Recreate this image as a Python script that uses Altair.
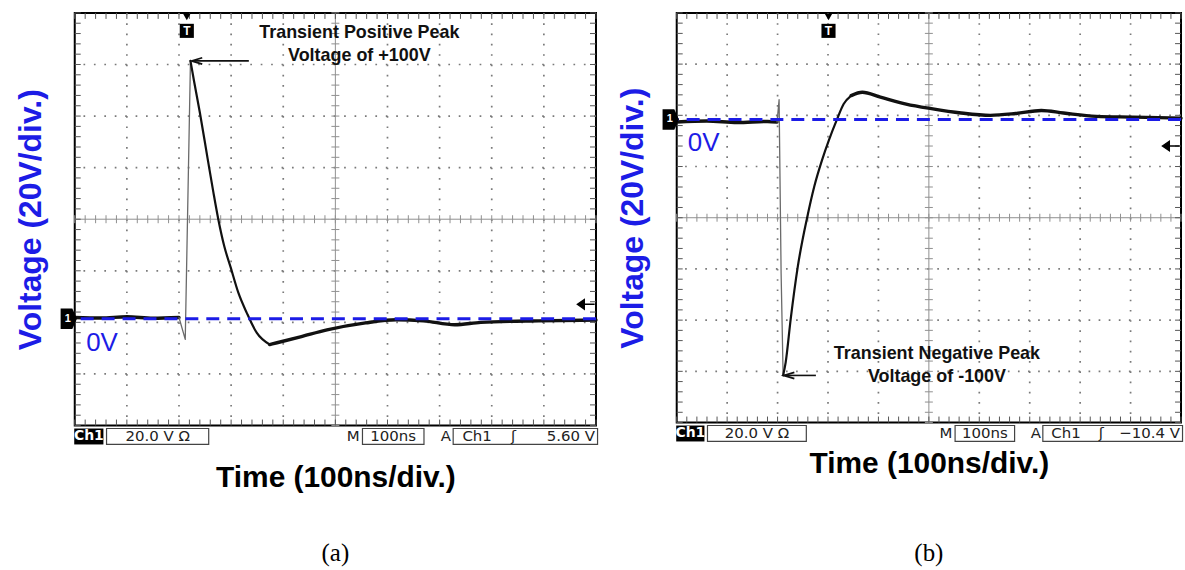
import altair as alt
import pandas as pd

# ---------------------------------------------------------------------------
# Captured waveforms: time in ns from the left edge of the screen, voltage in V
# ---------------------------------------------------------------------------
# (a) positive transient
A_TIME = [0, 50, 100, 150, 200,
          200, 212, 222,
          222, 229, 240, 255, 266, 275, 287, 299, 314, 330, 349, 374,
          374, 388, 433, 484, 558, 617, 669, 729, 779, 890, 1000]
A_VOLT = [0.5, 0.3, 0.8, 0.2, 0.5,
          0.5, -8, 100,
          100, 92, 80, 62, 49, 39, 28, 20, 10, 2.3, -5.4, -10,
          -10, -9.3, -7, -4.3, -1.6, -0.4, -0.8, -2.3, -1.4, -0.8, -0.5]
A_PART = ["pre", "pre", "pre", "pre", "pre",
          "edge", "edge", "edge",
          "fall", "fall", "fall", "fall", "fall", "fall", "fall", "fall",
          "fall", "fall", "fall", "fall",
          "tail", "tail", "tail", "tail", "tail", "tail", "tail", "tail",
          "tail", "tail", "tail"]

# (b) negative transient
B_TIME = [0, 60, 120, 180, 199,
          199, 203, 207, 211,
          211, 216, 226, 240, 259, 273, 288, 302, 317, 331, 346,
          346, 368, 404, 455, 505, 564, 622, 672, 723, 767, 832, 905, 1000]
B_VOLT = [-1, -0.6, -1.2, -0.8, -1,
          -1, 7.7, -60, -100,
          -100, -95, -78, -57.6, -38, -26, -16, -8, -0.4, 6, 9.3,
          9.3, 10.6, 8.7, 6, 4.2, 2.5, 1.6, 2.3, 3.5, 2.5, 1.2, 0.9, 0.5]
B_PART = ["pre", "pre", "pre", "pre", "pre",
          "edge", "edge", "edge", "edge",
          "fall", "fall", "fall", "fall", "fall", "fall", "fall", "fall",
          "fall", "fall", "fall",
          "tail", "tail", "tail", "tail", "tail", "tail", "tail", "tail",
          "tail", "tail", "tail", "tail", "tail"]

# Scope settings shown in the readout line
A_TRIG_NS, A_TRIG_LEVEL, A_TRIG_TEXT = 215, 5.60, "5.60 V"
B_TRIG_NS, B_TRIG_LEVEL, B_TRIG_TEXT = 301, -10.4, "\u221210.4 V"
A_SCREEN_TOP_V = 118.6   # voltage at the top graticule line
B_SCREEN_TOP_V = 41.6

A_NOTE = ["Transient Positive Peak", "Voltage of +100V"]
B_NOTE = ["Transient Negative Peak", "Voltage of -100V"]
A_PEAK_V, B_PEAK_V = 100, -100

DIV_NS, DIV_V = 100, 20
N_XDIV, N_YDIV = 10, 8

# stroke style for each stretch of the trace: (colour, width, interpolation)
TRACE_STYLE = {"pre": ("#111111", 3.4, "monotone"),
               "edge": ("#6a6a6a", 1.3, "linear"),
               "fall": ("#111111", 2.2, "monotone"),
               "tail": ("#111111", 3.4, "monotone")}

BLUE = "#1c1ce6"
SANS = "Liberation Sans"
MONO = "DejaVu Sans"
FRAME_MARK = "M-0.8,-1 L0.35,-1 L0.8,0 L0.35,1 L-0.8,1 Z"
LEVEL_MARK = "M-1,0 L-0.2,-0.55 L-0.2,0.55 Z M-0.2,0 L1,0"
ARROW_HEAD = "M1,-0.6 L-1,0 L1,0.6"


def scope(time, volt, part, top_v, width, height, trig_ns, trig_level,
          trig_text, note, note_pos, peak_v, arrow_x, xpad, sub, sub_offset):
    bottom_v = top_v - N_YDIV * DIV_V
    t_max = N_XDIV * DIV_NS
    xs = alt.Scale(domain=[0, t_max], nice=False, zero=False)
    ys = alt.Scale(domain=[bottom_v, top_v], nice=False, zero=False)
    x_axis = alt.Axis(title="Time (100ns/div.)", labels=False, ticks=False,
                      grid=False, domain=False, titleFont=SANS,
                      titleFontSize=30, titleFontWeight="bold",
                      titleColor="black", titlePadding=xpad)
    y_axis = alt.Axis(title="Voltage (20V/div.)", labels=False, ticks=False,
                      grid=False, domain=False, titleFont=SANS,
                      titleFontSize=32, titleFontWeight="bold",
                      titleColor=BLUE, titlePadding=27)

    def X(f="t"):
        return alt.X(f"{f}:Q", scale=xs, axis=x_axis)

    def Y(f="v"):
        return alt.Y(f"{f}:Q", scale=ys, axis=y_axis)

    # graticule
    minor_t = [i * DIV_NS / 5 for i in range(N_XDIV * 5 + 1)]
    minor_v = [bottom_v + i * DIV_V / 5 for i in range(N_YDIV * 5 + 1)]
    major_t = [i * DIV_NS for i in range(1, N_XDIV) if i != N_XDIV // 2]
    major_v = [bottom_v + i * DIV_V for i in range(1, N_YDIV) if i != N_YDIV // 2]
    mid_t = t_max / 2
    mid_v = bottom_v + N_YDIV * DIV_V / 2
    step_y = height / (N_YDIV * 5)
    step_x = width / (N_XDIV * 5)

    layers = []
    layers.append(alt.Chart(pd.DataFrame({"t": major_t})).mark_rule(
        color="#7a7a7a", strokeWidth=1.7, strokeDash=[1.7, step_y - 1.7]
    ).encode(x=X()))
    layers.append(alt.Chart(pd.DataFrame({"v": major_v})).mark_rule(
        color="#7a7a7a", strokeWidth=1.7, strokeDash=[1.7, step_x - 1.7]
    ).encode(y=Y()))
    layers.append(alt.Chart(pd.DataFrame({"t": [mid_t]})).mark_rule(
        color="#909090", strokeWidth=1).encode(x=X()))
    layers.append(alt.Chart(pd.DataFrame({"v": [mid_v]})).mark_rule(
        color="#909090", strokeWidth=1).encode(y=Y()))
    # ticks on the centre cross
    layers.append(alt.Chart(pd.DataFrame({"t": minor_t, "v": mid_v})).mark_point(
        shape="stroke", angle=90, size=64, color="#909090", strokeWidth=1, opacity=1
    ).encode(x=X(), y=Y()))
    layers.append(alt.Chart(pd.DataFrame({"t": mid_t, "v": minor_v})).mark_point(
        shape="stroke", angle=0, size=64, color="#909090", strokeWidth=1, opacity=1
    ).encode(x=X(), y=Y()))
    # ticks along the screen border
    for tv, vv, ang, dx, dy in [(minor_t, top_v, 90, 0, 3), (minor_t, bottom_v, 90, 0, -3),
                                (0, minor_v, 0, 3, 0), (t_max, minor_v, 0, -3, 0)]:
        layers.append(alt.Chart(pd.DataFrame({"t": tv, "v": vv})).mark_point(
            shape="stroke", angle=ang, size=36, color="#555555", strokeWidth=1,
            opacity=1, xOffset=dx, yOffset=dy
        ).encode(x=X(), y=Y()))

    # waveform, one stretch at a time
    trace = pd.DataFrame({"t": time, "v": volt, "part": part})
    for name, (col, sw, interp) in TRACE_STYLE.items():
        layers.append(alt.Chart(trace).transform_filter(
            alt.datum.part == name
        ).mark_line(color=col, strokeWidth=sw, strokeJoin="round",
                    strokeCap="round", interpolate=interp
                    ).encode(x=X(), y=Y(), order="t:Q"))

    # 0 V reference
    layers.append(alt.Chart(pd.DataFrame({"v": [0]})).mark_rule(
        color=BLUE, strokeWidth=3, strokeDash=[13, 8]).encode(y=Y()))
    layers.append(alt.Chart(pd.DataFrame({"t": [22], "v": [-9.3], "s": ["0V"]})).mark_text(
        align="left", baseline="middle", font=SANS, fontSize=26, color=BLUE
    ).encode(x=X(), y=Y(), text="s:N"))

    # channel ground marker
    gnd = pd.DataFrame({"v": [0], "s": ["1"]})
    layers.append(alt.Chart(gnd).mark_point(
        shape=FRAME_MARK, size=420, filled=True, color="black", opacity=1
    ).encode(x=alt.value(-6), y=Y()))
    layers.append(alt.Chart(gnd).mark_text(
        font=SANS, fontSize=11, fontWeight="bold", color="white", baseline="middle", dx=-1
    ).encode(x=alt.value(-6), y=Y(), text="s:N"))

    # trigger position marker
    trig = pd.DataFrame({"t": [trig_ns], "v": [top_v], "s": ["T"]})
    layers.append(alt.Chart(trig).mark_point(
        shape="triangle-down", size=60, filled=True, color="black", opacity=1, yOffset=4
    ).encode(x=X(), y=Y()))
    layers.append(alt.Chart(trig).mark_point(
        shape="square", size=200, filled=True, color="black", opacity=1, yOffset=18
    ).encode(x=X(), y=Y()))
    layers.append(alt.Chart(trig).mark_text(
        font=SANS, fontSize=12, fontWeight="bold", color="white", baseline="middle", dy=18
    ).encode(x=X(), y=Y(), text="s:N"))

    # trigger level marker
    layers.append(alt.Chart(pd.DataFrame({"t": [t_max], "v": [trig_level]})).mark_point(
        shape=LEVEL_MARK, size=300, fill="black", stroke="black", strokeWidth=1.4,
        opacity=1, xOffset=-10
    ).encode(x=X(), y=Y()))

    # peak annotation
    notes = pd.DataFrame({"t": [note_pos[0]] * 2, "v": note_pos[1:], "s": note})
    layers.append(alt.Chart(notes).mark_text(
        font=SANS, fontSize=18, fontWeight="bold", color="#111111", baseline="middle"
    ).encode(x=X(), y=Y(), text="s:N"))
    arrow = pd.DataFrame({"t": [arrow_x[0]], "t2": [arrow_x[1]], "v": [peak_v]})
    layers.append(alt.Chart(arrow).mark_rule(color="#111111", strokeWidth=1.6).encode(
        x=X(), x2="t2:Q", y=Y()))
    layers.append(alt.Chart(arrow).mark_point(
        shape=ARROW_HEAD, size=110, color="#111111", strokeWidth=1.8, opacity=1, xOffset=5
    ).encode(x=X(), y=Y()))

    # readout line under the screen
    y0, y1, yc = height + 3, height + 19, height + 11
    layers.append(alt.Chart(pd.DataFrame({"t": [-1], "t2": [55]})).mark_rect(
        fill="black").encode(x=X(), x2="t2:Q", y=alt.value(y0), y2=alt.value(y1)))
    layers.append(alt.Chart(pd.DataFrame({"t": [61, 552, 726], "t2": [257, 670, 1003]})).mark_rect(
        fill="white", stroke="#444444", strokeWidth=1.2
    ).encode(x=X(), x2="t2:Q", y=alt.value(y0), y2=alt.value(y1)))
    layers.append(alt.Chart(pd.DataFrame({"t": [27], "s": ["Ch1"]})).mark_text(
        font=MONO, fontSize=14, fontWeight="bold", color="white", baseline="middle"
    ).encode(x=X(), y=alt.value(yc), text="s:N"))
    labels = pd.DataFrame({"t": [159, 534, 611, 712, 772, 842],
                           "s": ["20.0 V \u03a9", "M", "100ns", "A", "Ch1", "\u0283"]})
    layers.append(alt.Chart(labels).mark_text(
        font=MONO, fontSize=15, color="#222222", baseline="middle"
    ).encode(x=X(), y=alt.value(yc), text="s:N"))
    layers.append(alt.Chart(pd.DataFrame({"t": [998], "s": [trig_text]})).mark_text(
        font=MONO, fontSize=15, color="#222222", baseline="middle", align="right"
    ).encode(x=X(), y=alt.value(yc), text="s:N"))

    return alt.layer(*layers).properties(
        width=width, height=height,
        title=alt.TitleParams(sub, orient="bottom", frame="group", anchor="middle",
                              font="Liberation Serif", fontSize=25,
                              fontWeight="normal", color="black", offset=sub_offset))


panel_a = scope(A_TIME, A_VOLT, A_PART, A_SCREEN_TOP_V, 523, 414, A_TRIG_NS,
                A_TRIG_LEVEL, A_TRIG_TEXT, A_NOTE, [546, 110.9, 102], A_PEAK_V,
                [225, 334], 37, "(a)", 49)
panel_b = scope(B_TIME, B_VOLT, B_PART, B_SCREEN_TOP_V, 506, 411, B_TRIG_NS,
                B_TRIG_LEVEL, B_TRIG_TEXT, B_NOTE, [516, -91.5, -100.8], B_PEAK_V,
                [213, 276], 26, "(b)", 63)

chart = alt.hconcat(panel_a, panel_b, spacing=16).properties(
    padding={"left": 14, "top": 9, "right": 0, "bottom": 0},
    background="white",
).configure_view(stroke="black", strokeWidth=2)

chart.save("out.html", embed_options={"renderer": "svg", "actions": False})
